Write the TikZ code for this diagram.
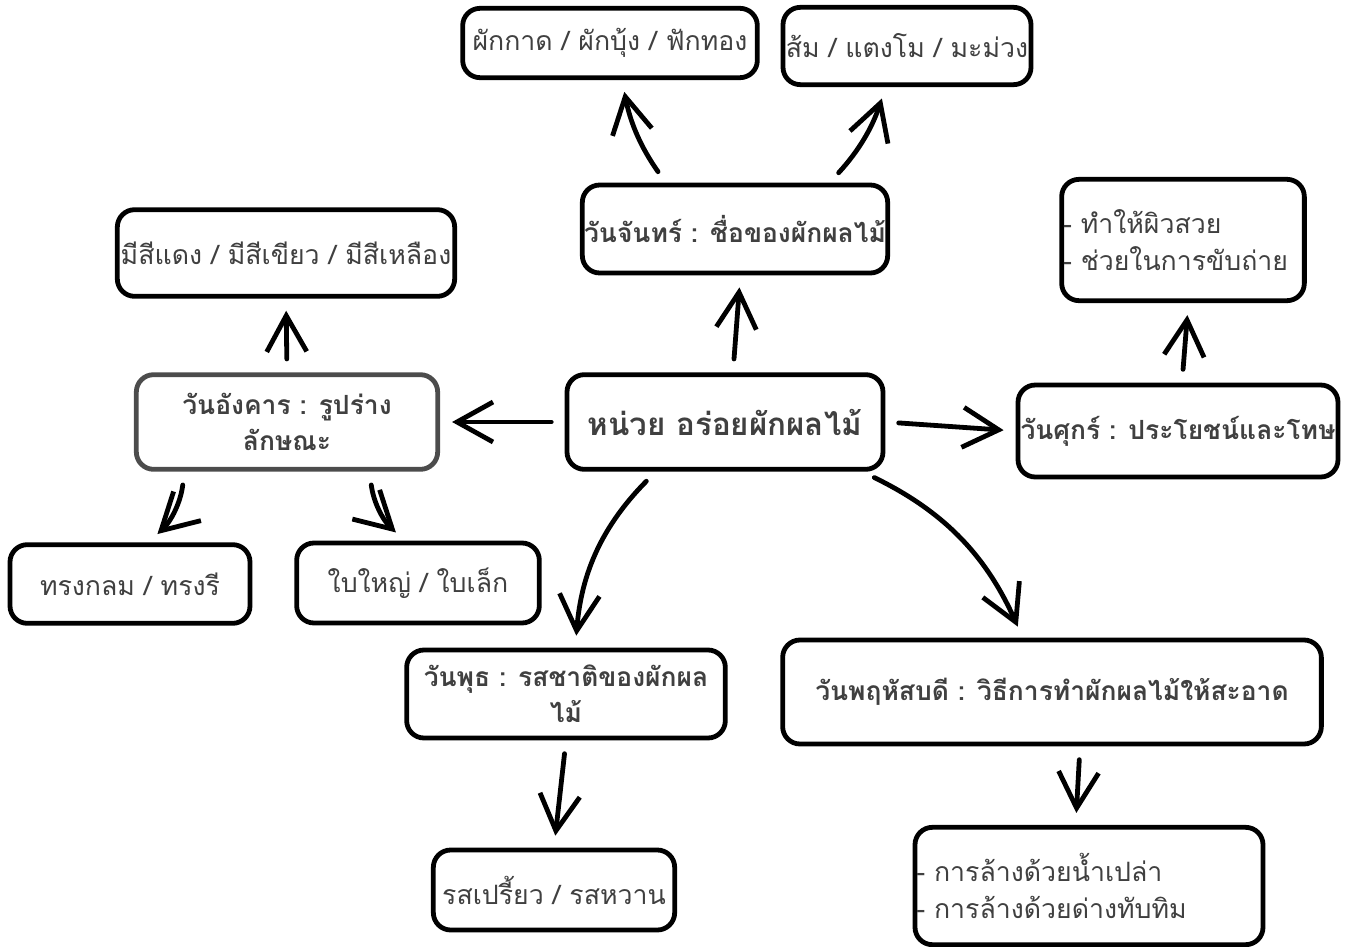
\documentclass[tikz,border=0pt]{standalone}
\usepackage{fontspec}
\setmainfont[Script=Thai]{Loma}
\usetikzlibrary{arrows.meta}

\definecolor{ink}{HTML}{404040}

\begin{document}
\begin{tikzpicture}[x=0.75pt, y=-0.75pt,
    box/.style={draw, line width=3.6pt, rounded corners=13pt, fill=white, text=ink,
        align=center, inner sep=1pt, font=\fontsize{20}{28}\selectfont},
    hbox/.style={box, font=\bfseries\fontsize{19.8}{27}\selectfont},
    link/.style={line width=3.6pt, line cap=round,
        -{Straight Barb[length=27pt,width=30pt]}, shorten <=10pt, shorten >=9pt}]
                        \useasboundingbox (0,0) rectangle (1349,946);

                        \node[hbox, minimum width=237pt, minimum height=71pt, font=\bfseries\fontsize{23.5}{30}\selectfont] (main) at (725,422) {หน่วย อร่อยผักผลไม้};
                        \node[hbox, minimum width=229pt, minimum height=66pt] (mon) at (735,229) {วันจันทร์ : ชื่อของผักผลไม้};
                        \node[box, minimum width=221pt, minimum height=52pt] (veg) at (610,43) {ผักกาด / ผักบุ้ง / ฟักทอง};
                        \node[box, minimum width=186pt, minimum height=58pt] (fruit) at (907,46) {ส้ม / แตงโม / มะม่วง};
                        \node[hbox, minimum width=226pt, minimum height=71pt, draw=black!70] (tue) at (287,422) {วันอังคาร : รูปร่าง\\ลักษณะ};
                        \node[box, minimum width=253pt, minimum height=65pt] (color) at (286,253) {มีสีแดง / มีสีเขียว / มีสีเหลือง};
                        \node[box, minimum width=180pt, minimum height=59pt] (round) at (130,584) {ทรงกลม / ทรงรี};
                        \node[box, minimum width=182pt, minimum height=60pt] (leaf) at (418,583) {ใบใหญ่ / ใบเล็ก};
                        \node[hbox, minimum width=240pt, minimum height=69pt] (fri) at (1178,431) {วันศุกร์ : ประโยชน์และโทษ};
                        \node[box, text width=180pt, align=left, minimum height=91pt] (good) at (1183,240) {- ทำให้ผิวสวย\\- ช่วยในการขับถ่าย};
                        \node[hbox, minimum width=239pt, minimum height=66pt] (wed) at (566,694) {วันพุธ : รสชาติของผักผล\\ไม้};
                        \node[box, minimum width=181pt, minimum height=60pt] (taste) at (554,890) {รสเปรี้ยว / รสหวาน};
                        \node[hbox, minimum width=404pt, minimum height=78pt] (thu) at (1052,692) {วันพฤหัสบดี : วิธีการทำผักผลไม้ให้สะอาด};
                        \node[box, text width=259pt, align=left, minimum height=88pt] (wash) at (1089,886) {- การล้างด้วยน้ำเปล่า\\- การล้างด้วยด่างทับทิม};

                        \draw[link] ([xshift=6pt]main.north) -- ([xshift=4pt]mon.south);
                        \draw[link] ([xshift=-52pt]mon.north) to[bend left=12] ([xshift=9pt]veg.south);
                        \draw[link] ([xshift=71pt]mon.north) to[bend right=12] ([xshift=-16pt]fruit.south);
                        \draw[link] (main.west) -- (tue.east);
                        \draw[link] (main.east) -- (fri.west);
                        \draw[link] (tue.north) -- (color.south);
                        \draw[link] ([xshift=-77pt]tue.south) to[bend left=20] ([xshift=14pt]round.north);
                        \draw[link] ([xshift=62pt]tue.south) to[bend right=20] ([xshift=-10pt]leaf.north);
                        \draw[link] ([xshift=3pt]fri.north) -- ([xshift=4pt]good.south);
                        \draw[link] ([xshift=-52pt]main.south) to[bend right=20] ([xshift=7pt]wed.north);
                        \draw[link] ([xshift=103pt]main.south) to[bend left=20] ([xshift=-22pt]thu.north);
                        \draw[link] (wed.south) -- (taste.north);
                        \draw[link] ([xshift=21pt]thu.south) -- ([xshift=-10pt]wash.north);
                    \end{tikzpicture}
\end{document}
